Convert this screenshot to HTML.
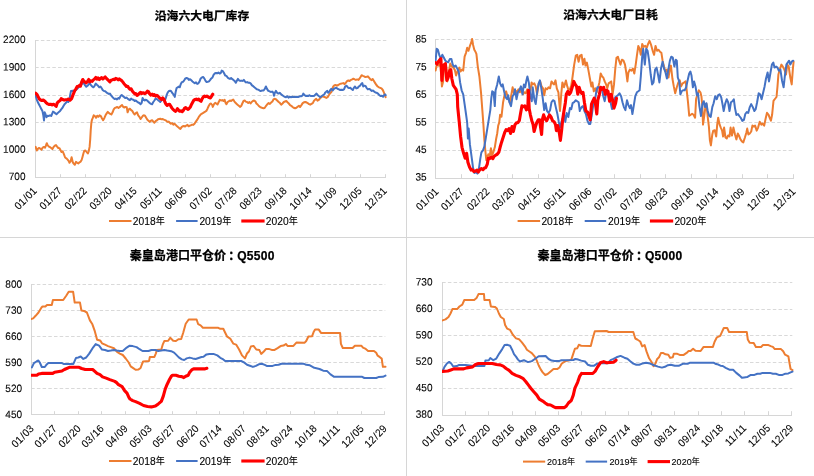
<!DOCTYPE html>
<html><head><meta charset="utf-8"><title>charts</title>
<style>
html,body{margin:0;padding:0;background:#fff;}
body{width:814px;height:476px;overflow:hidden;}
svg{display:block;}
.ax{font-family:"Liberation Sans","Noto Sans CJK SC",sans-serif;font-size:10.6px;fill:#000;stroke:#000;stroke-width:0.08px;}
.lg{font-family:"Liberation Sans","Noto Sans CJK SC",sans-serif;font-size:10.6px;fill:#000;stroke:#000;stroke-width:0.1px;}
.tt{font-family:"Liberation Sans","Noto Sans CJK SC",sans-serif;font-size:11.8px;font-weight:bold;fill:#000;stroke:#000;stroke-width:0.25px;}
</style></head><body>
<svg width="814" height="476" viewBox="0 0 814 476">
<rect x="0" y="0" width="814" height="476" fill="#fff"/>
<line x1="406.5" y1="0" x2="406.5" y2="476" stroke="#D6D6D6" stroke-width="1"/>
<line x1="0" y1="237.5" x2="814" y2="237.5" stroke="#D6D6D6" stroke-width="1"/>
<g><line x1="35.2" y1="40.5" x2="386.3" y2="40.5" stroke="#D9D9D9" stroke-width="1" stroke-dasharray="3.5 2.2"/>
<text transform="translate(25.50 43.10) rotate(0.03) scale(0.95 1)" text-anchor="end" class="ax">2200</text>
<line x1="35.2" y1="67.5" x2="386.3" y2="67.5" stroke="#D9D9D9" stroke-width="1" stroke-dasharray="3.5 2.2"/>
<text transform="translate(25.50 70.50) rotate(0.03) scale(0.95 1)" text-anchor="end" class="ax">1900</text>
<line x1="35.2" y1="95.5" x2="386.3" y2="95.5" stroke="#D9D9D9" stroke-width="1" stroke-dasharray="3.5 2.2"/>
<text transform="translate(25.50 97.90) rotate(0.03) scale(0.95 1)" text-anchor="end" class="ax">1600</text>
<line x1="35.2" y1="122.5" x2="386.3" y2="122.5" stroke="#D9D9D9" stroke-width="1" stroke-dasharray="3.5 2.2"/>
<text transform="translate(25.50 125.30) rotate(0.03) scale(0.95 1)" text-anchor="end" class="ax">1300</text>
<line x1="35.2" y1="150.5" x2="386.3" y2="150.5" stroke="#D9D9D9" stroke-width="1" stroke-dasharray="3.5 2.2"/>
<text transform="translate(25.50 152.70) rotate(0.03) scale(0.95 1)" text-anchor="end" class="ax">1000</text>
<text transform="translate(25.50 180.10) rotate(0.03) scale(0.95 1)" text-anchor="end" class="ax">700</text>
<line x1="35.5" y1="40.0" x2="35.5" y2="178.0" stroke="#D6D6D6" stroke-width="1"/>
<line x1="35.0" y1="177.5" x2="386.0" y2="177.5" stroke="#D6D6D6" stroke-width="1"/>
<text transform="translate(37.5 191.5) rotate(-45) scale(0.95 1)" text-anchor="end" class="ax">01<tspan dx="0.7">/</tspan><tspan dx="0.7">01</tspan></text>
<line x1="60.5" y1="174.2" x2="60.5" y2="177.5" stroke="#D6D6D6" stroke-width="1"/>
<text transform="translate(62.5 191.5) rotate(-45) scale(0.95 1)" text-anchor="end" class="ax">01<tspan dx="0.7">/</tspan><tspan dx="0.7">27</tspan></text>
<line x1="85.5" y1="174.2" x2="85.5" y2="177.5" stroke="#D6D6D6" stroke-width="1"/>
<text transform="translate(87.5 191.5) rotate(-45) scale(0.95 1)" text-anchor="end" class="ax">02<tspan dx="0.7">/</tspan><tspan dx="0.7">22</tspan></text>
<line x1="110.5" y1="174.2" x2="110.5" y2="177.5" stroke="#D6D6D6" stroke-width="1"/>
<text transform="translate(112.5 191.5) rotate(-45) scale(0.95 1)" text-anchor="end" class="ax">03<tspan dx="0.7">/</tspan><tspan dx="0.7">20</tspan></text>
<line x1="135.5" y1="174.2" x2="135.5" y2="177.5" stroke="#D6D6D6" stroke-width="1"/>
<text transform="translate(137.5 191.5) rotate(-45) scale(0.95 1)" text-anchor="end" class="ax">04<tspan dx="0.7">/</tspan><tspan dx="0.7">15</tspan></text>
<line x1="160.5" y1="174.2" x2="160.5" y2="177.5" stroke="#D6D6D6" stroke-width="1"/>
<text transform="translate(162.5 191.5) rotate(-45) scale(0.95 1)" text-anchor="end" class="ax">05<tspan dx="0.7">/</tspan><tspan dx="0.7">11</tspan></text>
<line x1="185.5" y1="174.2" x2="185.5" y2="177.5" stroke="#D6D6D6" stroke-width="1"/>
<text transform="translate(187.5 191.5) rotate(-45) scale(0.95 1)" text-anchor="end" class="ax">06<tspan dx="0.7">/</tspan><tspan dx="0.7">06</tspan></text>
<line x1="210.5" y1="174.2" x2="210.5" y2="177.5" stroke="#D6D6D6" stroke-width="1"/>
<text transform="translate(212.5 191.5) rotate(-45) scale(0.95 1)" text-anchor="end" class="ax">07<tspan dx="0.7">/</tspan><tspan dx="0.7">02</tspan></text>
<line x1="235.5" y1="174.2" x2="235.5" y2="177.5" stroke="#D6D6D6" stroke-width="1"/>
<text transform="translate(237.5 191.5) rotate(-45) scale(0.95 1)" text-anchor="end" class="ax">07<tspan dx="0.7">/</tspan><tspan dx="0.7">28</tspan></text>
<line x1="260.5" y1="174.2" x2="260.5" y2="177.5" stroke="#D6D6D6" stroke-width="1"/>
<text transform="translate(262.5 191.5) rotate(-45) scale(0.95 1)" text-anchor="end" class="ax">08<tspan dx="0.7">/</tspan><tspan dx="0.7">23</tspan></text>
<line x1="285.5" y1="174.2" x2="285.5" y2="177.5" stroke="#D6D6D6" stroke-width="1"/>
<text transform="translate(287.5 191.5) rotate(-45) scale(0.95 1)" text-anchor="end" class="ax">09<tspan dx="0.7">/</tspan><tspan dx="0.7">18</tspan></text>
<line x1="310.5" y1="174.2" x2="310.5" y2="177.5" stroke="#D6D6D6" stroke-width="1"/>
<text transform="translate(312.5 191.5) rotate(-45) scale(0.95 1)" text-anchor="end" class="ax">10<tspan dx="0.7">/</tspan><tspan dx="0.7">14</tspan></text>
<line x1="335.5" y1="174.2" x2="335.5" y2="177.5" stroke="#D6D6D6" stroke-width="1"/>
<text transform="translate(337.5 191.5) rotate(-45) scale(0.95 1)" text-anchor="end" class="ax">11<tspan dx="0.7">/</tspan><tspan dx="0.7">09</tspan></text>
<line x1="360.5" y1="174.2" x2="360.5" y2="177.5" stroke="#D6D6D6" stroke-width="1"/>
<text transform="translate(362.5 191.5) rotate(-45) scale(0.95 1)" text-anchor="end" class="ax">12<tspan dx="0.7">/</tspan><tspan dx="0.7">05</tspan></text>
<line x1="385.5" y1="174.2" x2="385.5" y2="177.5" stroke="#D6D6D6" stroke-width="1"/>
<text transform="translate(387.5 191.5) rotate(-45) scale(0.95 1)" text-anchor="end" class="ax">12<tspan dx="0.7">/</tspan><tspan dx="0.7">31</tspan></text>
<clipPath id="cp1"><rect x="35.0" y="39.0" width="353.9" height="139.0"/></clipPath>
<g clip-path="url(#cp1)">
<polyline points="35.6,146.9 36.8,150.5 38.0,148.6 39.1,148.0 40.3,148.6 41.5,149.8 42.7,147.6 43.9,146.9 45.0,147.6 45.9,145.7 46.8,143.2 47.7,145.4 48.9,146.6 50.0,147.2 51.2,148.0 52.4,149.1 53.6,146.9 54.8,145.7 56.0,145.1 57.1,146.6 58.3,148.0 59.5,148.3 60.7,150.5 61.5,152.0 62.7,151.3 63.9,154.2 65.1,157.5 66.3,158.3 67.4,159.4 68.6,160.9 69.5,162.8 70.7,160.9 71.6,157.2 72.8,162.3 73.9,163.8 74.8,164.8 76.0,161.9 77.2,162.8 78.3,163.4 79.5,162.3 80.7,161.6 81.6,160.1 82.5,156.9 83.4,153.5 84.2,151.0 85.4,150.5 86.6,152.0 87.8,153.5 88.7,151.3 89.6,146.9 90.2,139.5 90.7,130.6 91.3,123.3 91.9,120.0 92.7,118.2 93.7,115.3 94.9,116.0 96.0,117.8 97.2,115.7 98.4,116.8 99.6,115.3 100.8,116.0 101.9,118.2 103.1,120.2 104.3,118.2 105.5,115.3 106.7,113.4 107.8,111.9 109.0,113.1 110.2,113.8 111.4,114.5 112.6,112.3 113.7,109.4 114.9,107.9 116.1,107.5 117.3,106.9 118.5,107.9 119.6,107.2 120.8,106.0 122.0,105.0 123.2,106.9 124.3,107.5 125.5,106.9 126.7,107.2 127.6,112.3 128.8,109.4 129.9,108.7 131.1,110.1 132.3,110.9 133.5,113.1 134.7,114.5 135.8,113.1 137.0,112.3 138.2,115.3 139.4,116.8 140.6,119.0 141.7,117.5 142.9,115.7 144.1,115.3 145.0,115.7 146.2,117.8 147.4,119.7 148.5,120.7 149.7,121.9 150.9,120.7 152.1,120.2 153.3,121.6 154.4,122.7 155.6,121.2 156.8,120.4 158.0,119.3 159.2,119.0 160.3,118.7 161.5,119.3 162.7,119.0 163.9,119.7 165.1,120.2 166.2,120.7 167.4,121.9 168.6,121.6 169.8,122.7 170.9,123.7 172.1,123.1 173.3,124.6 174.5,123.7 175.7,124.9 176.8,126.0 178.0,127.1 179.2,128.1 180.4,129.0 181.6,127.1 182.7,126.3 183.9,126.0 185.1,126.6 186.3,125.6 187.5,124.9 188.6,126.3 189.8,125.6 191.0,125.2 192.2,124.6 193.3,124.9 194.5,123.7 195.7,121.9 196.9,120.2 198.1,118.2 199.2,116.3 200.4,114.8 201.6,113.8 202.8,113.1 204.0,112.3 205.2,111.6 206.3,110.9 207.5,108.7 208.7,106.0 209.9,103.9 211.0,103.5 212.2,105.0 212.8,106.9 214.0,104.2 215.2,102.8 216.3,103.5 217.5,104.5 218.7,102.0 219.9,99.8 221.1,100.5 222.2,100.1 223.4,101.0 224.6,99.8 225.5,102.8 226.4,104.2 227.6,102.0 228.7,101.3 229.9,100.5 231.1,101.0 232.3,100.1 233.2,99.5 234.3,101.3 235.5,102.8 236.7,103.9 237.9,105.0 239.1,106.0 240.2,106.9 241.4,105.7 242.3,103.5 243.5,101.0 244.7,100.5 245.8,101.6 247.0,102.0 248.2,103.0 249.4,102.0 250.6,103.5 251.7,102.0 252.9,101.0 254.1,100.5 255.3,101.3 256.4,103.5 257.6,104.5 258.8,106.0 260.0,106.9 261.2,107.5 262.0,107.8 263.6,108.3 264.8,107.8 266.1,105.8 267.4,104.2 268.6,103.1 269.9,103.9 271.1,102.6 272.4,101.5 273.7,99.1 274.9,98.8 276.2,99.5 277.4,100.7 278.7,102.0 280.0,103.1 281.2,104.7 282.5,103.5 283.8,102.0 285.0,101.5 286.3,101.0 287.5,102.3 288.8,103.5 290.1,105.1 291.3,105.8 292.6,107.0 293.8,107.8 295.1,108.3 296.4,107.8 297.6,106.7 298.9,105.8 300.1,107.0 301.4,105.1 302.7,103.1 303.9,102.3 305.2,102.0 306.4,102.3 307.7,103.1 309.0,104.2 310.2,104.7 311.5,103.9 312.8,103.1 314.0,100.7 315.3,99.5 316.2,98.8 317.5,100.7 318.8,99.9 320.0,98.3 321.3,97.2 322.5,96.3 323.8,96.8 325.1,97.2 326.3,97.9 327.6,97.2 328.8,95.2 330.1,93.2 331.4,92.0 332.3,89.4 333.2,86.5 334.5,85.3 335.8,85.0 337.0,85.7 338.3,85.0 339.6,84.2 340.8,83.7 342.1,83.4 343.3,83.1 344.6,84.2 345.9,82.6 347.1,81.0 348.4,80.5 349.6,81.0 350.9,79.9 352.2,79.4 353.4,78.7 354.7,79.4 355.9,79.9 357.2,79.4 358.5,79.9 359.4,78.7 360.7,76.8 361.6,75.2 362.9,75.8 364.1,76.3 365.4,77.1 366.7,76.8 367.9,76.3 369.2,77.9 370.4,79.4 371.7,80.2 372.7,79.0 373.9,81.0 375.2,83.1 376.4,85.0 377.7,86.5 379.0,87.3 380.2,87.8 381.5,88.4 382.8,90.0 383.7,92.0 384.6,94.4 385.6,97.2" fill="none" stroke="#ED7D31" stroke-width="2.0" stroke-linejoin="round" stroke-linecap="round"/>
<polyline points="35.6,95.4 36.6,99.1 37.7,102.0 38.9,104.2 40.0,106.4 41.2,108.7 42.4,110.9 43.3,115.3 44.0,120.4 44.7,112.3 45.6,114.5 46.5,117.2 47.7,115.7 48.9,116.0 50.0,115.3 51.2,116.0 52.1,113.8 53.0,111.6 54.2,112.3 55.4,113.4 56.5,114.2 57.7,113.1 58.9,111.9 60.1,110.9 61.2,109.4 62.4,107.9 63.6,105.7 64.8,103.9 66.0,102.8 67.2,101.3 68.3,102.0 69.5,99.8 70.1,95.4 71.0,91.0 72.8,90.7 74.2,91.0 75.7,90.2 77.2,88.8 78.7,87.3 80.1,85.8 81.6,84.3 82.8,82.8 84.0,83.6 85.1,85.4 86.3,86.8 87.5,85.8 88.7,84.3 89.8,83.3 91.0,85.1 92.2,86.5 93.4,87.3 94.6,85.8 95.8,83.6 96.9,84.8 98.1,85.8 99.3,87.3 100.5,86.5 101.7,88.3 102.8,90.2 104.0,91.0 105.2,91.2 106.4,92.4 107.5,93.2 108.7,93.9 109.9,93.6 111.1,95.4 112.3,96.9 113.4,98.0 114.6,99.1 115.8,98.6 117.0,99.5 118.2,98.0 119.3,98.6 120.5,96.1 121.7,95.1 122.9,96.1 124.0,96.9 125.2,98.0 126.4,97.6 127.6,98.6 128.8,99.5 129.9,100.1 131.1,98.6 132.3,99.5 133.5,99.8 134.7,101.0 135.8,100.5 137.0,101.6 138.2,102.5 139.4,103.0 140.6,104.2 141.7,102.8 142.6,98.0 143.5,99.8 144.7,100.5 145.0,99.8 146.5,100.1 147.9,101.3 149.4,102.8 150.9,103.9 152.1,104.2 153.3,102.0 154.4,100.5 155.6,98.6 156.8,99.1 158.0,100.1 159.2,101.0 160.3,102.0 161.5,100.5 162.7,99.1 163.9,99.8 164.9,100.5 165.9,97.6 166.8,94.6 167.8,92.4 168.9,91.0 170.1,90.7 171.2,91.2 172.4,93.2 173.6,94.6 174.8,96.9 175.7,91.7 176.6,88.0 177.7,87.3 178.9,86.5 179.8,87.3 180.7,84.3 181.9,82.1 183.0,81.8 184.2,80.3 185.4,78.4 186.6,78.0 187.8,78.4 188.9,79.9 190.1,79.2 191.3,80.3 192.5,81.4 193.7,82.4 194.8,83.3 196.0,82.4 197.2,83.9 198.4,83.3 199.6,81.4 200.7,78.4 201.9,77.4 203.1,77.0 204.3,78.4 205.4,80.6 206.6,82.1 207.8,81.8 209.0,81.4 210.2,79.9 211.3,78.4 212.5,77.4 213.7,74.7 214.9,73.3 216.1,73.0 217.2,73.3 218.4,72.5 219.6,73.6 220.8,73.0 221.7,70.6 222.8,71.1 224.0,73.0 225.2,75.5 226.4,75.9 227.6,77.4 228.7,78.4 229.9,78.9 231.1,78.0 232.3,79.2 233.4,79.9 234.6,80.9 235.8,82.8 237.0,80.6 237.9,78.9 239.1,80.3 240.2,80.9 241.4,80.6 242.6,80.9 243.8,79.9 244.9,81.4 246.1,82.4 247.3,82.1 248.5,82.8 249.7,82.8 250.8,83.6 252.0,85.4 253.2,86.2 254.4,87.3 255.6,88.3 256.7,89.2 257.9,89.5 259.1,90.2 260.3,91.0 261.5,90.7 262.0,90.5 263.6,90.5 264.8,88.9 265.9,86.5 267.0,88.9 268.3,90.9 269.6,91.3 270.8,92.0 272.1,91.6 273.4,92.8 274.0,95.7 274.9,92.8 275.9,90.9 277.1,92.8 278.4,93.6 279.7,92.8 280.9,94.1 282.2,95.2 283.4,96.0 284.7,96.8 286.0,97.2 287.2,96.3 288.5,97.6 289.7,96.8 291.0,97.2 292.3,96.8 293.5,96.9 294.8,96.9 296.1,96.8 297.3,96.9 298.6,96.9 299.8,96.3 301.1,96.3 302.4,95.7 303.3,93.6 304.6,95.2 305.8,96.0 307.1,95.7 308.3,96.0 309.3,95.2 310.6,96.0 311.8,96.0 313.1,96.0 314.3,95.7 315.6,94.4 316.5,93.6 317.8,95.2 319.1,96.3 320.3,97.2 321.6,96.3 322.9,95.2 324.1,94.7 325.1,92.8 326.3,91.6 327.3,90.9 328.2,92.8 329.5,91.6 330.4,89.7 331.4,88.9 332.6,90.5 333.9,88.9 335.1,88.1 336.4,87.8 337.7,88.9 338.9,89.4 340.2,90.0 341.4,89.7 342.7,90.0 344.0,89.4 345.2,86.5 346.5,85.7 347.8,87.3 349.0,88.1 350.3,87.8 351.5,88.9 352.8,90.0 353.7,88.1 355.0,86.5 356.3,88.4 357.5,88.1 358.8,86.5 360.1,85.7 361.0,84.2 362.3,83.1 363.2,86.5 364.5,85.7 365.7,86.2 366.7,88.1 367.9,89.4 369.2,88.9 370.4,89.7 371.7,90.9 373.0,90.5 374.2,91.6 375.5,92.5 376.8,92.8 378.0,93.6 379.3,95.2 380.5,96.0 381.8,95.7 383.1,96.8 384.0,95.2 385.0,94.4 385.7,95.2" fill="none" stroke="#4472C4" stroke-width="2.0" stroke-linejoin="round" stroke-linecap="round"/>
<polyline points="35.6,93.2 37.1,94.6 38.1,96.6 39.1,98.6 40.3,99.8 41.8,100.5 43.3,100.1 44.7,101.0 46.2,102.8 47.7,103.9 49.2,104.5 50.6,104.2 52.1,105.0 53.6,104.2 55.1,105.4 56.2,106.4 57.3,102.8 58.8,101.3 60.2,100.5 61.2,98.6 62.7,99.5 64.2,100.1 65.7,99.8 67.2,99.5 68.6,99.1 70.1,100.1 71.6,98.6 72.8,95.4 73.9,92.7 75.0,90.2 76.0,88.8 77.2,86.5 78.3,86.2 79.4,85.4 80.4,86.2 81.6,82.1 82.8,79.5 84.0,81.4 85.1,82.1 86.3,82.8 87.5,81.4 88.7,79.5 89.8,81.8 91.0,80.9 92.2,81.4 93.4,79.9 94.6,78.9 95.8,77.4 96.9,79.2 98.1,78.0 99.3,79.5 100.5,78.4 101.7,77.7 102.8,78.9 104.0,78.0 105.2,77.0 106.4,78.4 107.5,79.5 108.7,80.6 109.9,81.8 111.1,80.3 112.3,79.9 113.4,79.2 114.6,79.6 115.8,78.4 117.0,78.9 118.2,79.9 119.3,78.9 120.5,79.9 121.7,80.6 122.9,82.1 124.0,83.6 125.2,85.1 126.4,86.5 127.6,86.2 128.8,88.0 129.9,89.2 131.1,88.8 132.3,91.0 133.5,92.4 134.7,93.9 135.8,93.6 137.0,95.4 138.2,94.6 139.4,93.2 140.6,92.4 141.7,93.6 142.9,92.7 144.1,93.2 145.0,93.6 146.2,92.7 147.4,91.2 148.5,91.7 149.7,93.9 150.9,95.1 152.1,94.2 153.3,95.4 154.4,94.6 155.6,96.1 156.8,95.4 158.0,96.1 159.2,97.6 160.3,98.6 161.5,99.5 162.7,98.0 163.9,99.1 164.9,102.0 165.9,104.2 167.1,105.4 168.3,104.5 169.5,104.2 170.7,106.0 171.8,107.9 173.0,109.4 174.2,110.4 175.4,111.3 176.6,110.1 177.4,108.7 178.6,110.1 179.8,111.3 181.0,110.9 182.2,111.6 183.3,110.4 184.5,108.3 185.7,107.5 186.9,108.7 188.1,109.4 189.2,108.3 190.4,106.9 191.6,104.2 192.8,102.0 193.9,100.1 195.1,99.5 196.3,99.1 197.5,99.8 198.7,99.1 199.8,100.5 201.0,101.3 202.2,98.6 203.4,96.9 204.6,96.1 205.7,96.6 206.9,96.1 208.1,96.9 209.3,97.6 210.4,98.0 211.6,96.1 212.8,94.2" fill="none" stroke="#FF0000" stroke-width="3.1" stroke-linejoin="round" stroke-linecap="round"/>
</g>
<text x="202.0" y="19.5" text-anchor="middle" class="tt" style="font-size:11.8px">沿海六大电厂库存</text>
<line x1="109.0" y1="221.0" x2="131.5" y2="221.0" stroke="#ED7D31" stroke-width="2.0"/>
<text transform="translate(132.8 224.7) scale(0.97 1)" class="lg" style="font-size:10.6px">2018<tspan dy="-0.74" style="font-size:9.43px">年</tspan></text>
<line x1="176.1" y1="221.0" x2="197.6" y2="221.0" stroke="#4472C4" stroke-width="2.0"/>
<text transform="translate(199.4 224.7) scale(0.97 1)" class="lg" style="font-size:10.6px">2019<tspan dy="-0.74" style="font-size:9.43px">年</tspan></text>
<line x1="241.3" y1="221.0" x2="264.6" y2="221.0" stroke="#FF0000" stroke-width="3.1"/>
<text transform="translate(265.8 224.7) scale(0.97 1)" class="lg" style="font-size:10.6px">2020<tspan dy="-0.74" style="font-size:9.43px">年</tspan></text></g>
<g><line x1="435.2" y1="39.5" x2="794.3" y2="39.5" stroke="#D9D9D9" stroke-width="1" stroke-dasharray="3.5 2.2"/>
<text transform="translate(426.70 42.60) rotate(0.03) scale(0.95 1)" text-anchor="end" class="ax">85</text>
<line x1="435.2" y1="67.5" x2="794.3" y2="67.5" stroke="#D9D9D9" stroke-width="1" stroke-dasharray="3.5 2.2"/>
<text transform="translate(426.70 70.20) rotate(0.03) scale(0.95 1)" text-anchor="end" class="ax">75</text>
<line x1="435.2" y1="95.5" x2="794.3" y2="95.5" stroke="#D9D9D9" stroke-width="1" stroke-dasharray="3.5 2.2"/>
<text transform="translate(426.70 97.80) rotate(0.03) scale(0.95 1)" text-anchor="end" class="ax">65</text>
<line x1="435.2" y1="122.5" x2="794.3" y2="122.5" stroke="#D9D9D9" stroke-width="1" stroke-dasharray="3.5 2.2"/>
<text transform="translate(426.70 125.40) rotate(0.03) scale(0.95 1)" text-anchor="end" class="ax">55</text>
<line x1="435.2" y1="150.5" x2="794.3" y2="150.5" stroke="#D9D9D9" stroke-width="1" stroke-dasharray="3.5 2.2"/>
<text transform="translate(426.70 153.00) rotate(0.03) scale(0.95 1)" text-anchor="end" class="ax">45</text>
<text transform="translate(426.70 180.60) rotate(0.03) scale(0.95 1)" text-anchor="end" class="ax">35</text>
<line x1="435.5" y1="39.0" x2="435.5" y2="179.0" stroke="#D6D6D6" stroke-width="1"/>
<line x1="435.0" y1="178.5" x2="794.0" y2="178.5" stroke="#D6D6D6" stroke-width="1"/>
<text transform="translate(439.1 192.2) rotate(-45) scale(0.95 1)" text-anchor="end" class="ax">01<tspan dx="0.7">/</tspan><tspan dx="0.7">01</tspan></text>
<line x1="461.5" y1="174.2" x2="461.5" y2="178.5" stroke="#D6D6D6" stroke-width="1"/>
<text transform="translate(464.1 192.2) rotate(-45) scale(0.95 1)" text-anchor="end" class="ax">01<tspan dx="0.7">/</tspan><tspan dx="0.7">27</tspan></text>
<line x1="487.5" y1="174.2" x2="487.5" y2="178.5" stroke="#D6D6D6" stroke-width="1"/>
<text transform="translate(490.1 192.2) rotate(-45) scale(0.95 1)" text-anchor="end" class="ax">02<tspan dx="0.7">/</tspan><tspan dx="0.7">22</tspan></text>
<line x1="512.5" y1="174.2" x2="512.5" y2="178.5" stroke="#D6D6D6" stroke-width="1"/>
<text transform="translate(515.1 192.2) rotate(-45) scale(0.95 1)" text-anchor="end" class="ax">03<tspan dx="0.7">/</tspan><tspan dx="0.7">20</tspan></text>
<line x1="538.5" y1="174.2" x2="538.5" y2="178.5" stroke="#D6D6D6" stroke-width="1"/>
<text transform="translate(541.1 192.2) rotate(-45) scale(0.95 1)" text-anchor="end" class="ax">04<tspan dx="0.7">/</tspan><tspan dx="0.7">15</tspan></text>
<line x1="563.5" y1="174.2" x2="563.5" y2="178.5" stroke="#D6D6D6" stroke-width="1"/>
<text transform="translate(566.1 192.2) rotate(-45) scale(0.95 1)" text-anchor="end" class="ax">05<tspan dx="0.7">/</tspan><tspan dx="0.7">11</tspan></text>
<line x1="589.5" y1="174.2" x2="589.5" y2="178.5" stroke="#D6D6D6" stroke-width="1"/>
<text transform="translate(592.1 192.2) rotate(-45) scale(0.95 1)" text-anchor="end" class="ax">06<tspan dx="0.7">/</tspan><tspan dx="0.7">06</tspan></text>
<line x1="614.5" y1="174.2" x2="614.5" y2="178.5" stroke="#D6D6D6" stroke-width="1"/>
<text transform="translate(617.1 192.2) rotate(-45) scale(0.95 1)" text-anchor="end" class="ax">07<tspan dx="0.7">/</tspan><tspan dx="0.7">02</tspan></text>
<line x1="640.5" y1="174.2" x2="640.5" y2="178.5" stroke="#D6D6D6" stroke-width="1"/>
<text transform="translate(643.1 192.2) rotate(-45) scale(0.95 1)" text-anchor="end" class="ax">07<tspan dx="0.7">/</tspan><tspan dx="0.7">28</tspan></text>
<line x1="665.5" y1="174.2" x2="665.5" y2="178.5" stroke="#D6D6D6" stroke-width="1"/>
<text transform="translate(668.1 192.2) rotate(-45) scale(0.95 1)" text-anchor="end" class="ax">08<tspan dx="0.7">/</tspan><tspan dx="0.7">23</tspan></text>
<line x1="691.5" y1="174.2" x2="691.5" y2="178.5" stroke="#D6D6D6" stroke-width="1"/>
<text transform="translate(694.1 192.2) rotate(-45) scale(0.95 1)" text-anchor="end" class="ax">09<tspan dx="0.7">/</tspan><tspan dx="0.7">18</tspan></text>
<line x1="716.5" y1="174.2" x2="716.5" y2="178.5" stroke="#D6D6D6" stroke-width="1"/>
<text transform="translate(719.1 192.2) rotate(-45) scale(0.95 1)" text-anchor="end" class="ax">10<tspan dx="0.7">/</tspan><tspan dx="0.7">14</tspan></text>
<line x1="742.5" y1="174.2" x2="742.5" y2="178.5" stroke="#D6D6D6" stroke-width="1"/>
<text transform="translate(745.1 192.2) rotate(-45) scale(0.95 1)" text-anchor="end" class="ax">11<tspan dx="0.7">/</tspan><tspan dx="0.7">09</tspan></text>
<line x1="767.5" y1="174.2" x2="767.5" y2="178.5" stroke="#D6D6D6" stroke-width="1"/>
<text transform="translate(770.1 192.2) rotate(-45) scale(0.95 1)" text-anchor="end" class="ax">12<tspan dx="0.7">/</tspan><tspan dx="0.7">05</tspan></text>
<line x1="793.5" y1="174.2" x2="793.5" y2="178.5" stroke="#D6D6D6" stroke-width="1"/>
<text transform="translate(796.1 192.2) rotate(-45) scale(0.95 1)" text-anchor="end" class="ax">12<tspan dx="0.7">/</tspan><tspan dx="0.7">31</tspan></text>
<clipPath id="cp2"><rect x="435.0" y="38.0" width="361.5" height="141.0"/></clipPath>
<g clip-path="url(#cp2)">
<polyline points="435.6,70.6 436.4,66.6 437.5,64.6 438.9,65.6 440.3,61.7 441.9,86.4 443.1,81.4 444.2,64.6 445.8,63.6 447.4,81.4 448.8,72.5 450.2,63.6 451.8,66.6 453.3,67.6 454.7,69.6 456.1,75.5 457.7,70.6 459.3,67.6 460.6,71.5 462.0,69.6 463.2,70.6 464.6,56.7 466.0,52.8 467.2,47.8 468.5,50.8 469.9,45.9 471.1,42.9 472.1,39.0 473.1,44.9 474.3,49.8 475.5,51.8 476.4,53.8 477.8,66.6 479.4,76.5 481.0,92.3 482.4,110.8 483.4,124.6 484.4,140.4 485.3,150.3 486.3,160.2 487.3,157.2 488.3,154.3 489.7,156.2 490.9,148.3 492.2,155.2 493.6,151.3 494.8,147.3 496.2,138.5 497.2,133.5 498.2,125.6 499.2,122.7 500.1,114.8 501.5,116.7 503.1,102.2 504.7,94.3 506.1,91.3 507.5,96.2 509.0,99.2 510.0,103.2 511.4,94.3 512.6,87.3 514.0,93.3 515.4,90.3 516.9,92.3 518.5,89.3 519.9,92.3 521.3,87.3 522.9,94.3 524.4,92.3 525.8,93.3 527.2,89.3 528.8,94.3 530.4,90.3 531.6,82.4 532.7,84.4 534.3,83.4 535.7,86.4 537.1,94.3 538.7,83.4 540.2,81.4 541.6,86.4 543.0,88.3 544.2,95.2 545.6,88.3 547.0,89.3 548.5,87.3 550.1,88.3 551.5,81.4 552.9,83.4 554.1,84.4 555.5,80.4 556.8,88.3 558.4,92.3 560.0,111.0 561.4,92.3 562.4,82.4 564.0,87.3 565.9,80.4 567.3,86.4 568.3,89.3 569.9,89.3 571.3,85.4 572.6,76.5 574.2,64.6 575.8,55.7 577.2,54.8 578.6,61.7 580.0,55.7 581.6,54.8 583.0,64.6 584.4,58.7 585.5,65.6 586.9,62.6 588.3,69.6 589.9,78.5 591.3,86.4 592.4,82.4 593.8,91.3 595.4,88.3 596.8,92.3 598.2,87.3 599.4,82.4 600.7,73.5 602.1,76.5 603.3,77.5 604.7,81.4 606.1,84.4 607.3,88.3 608.6,83.4 610.0,82.4 611.2,81.4 612.6,94.3 614.0,84.4 615.2,69.6 616.5,57.7 617.9,56.7 619.1,60.7 620.5,64.6 621.9,59.7 623.5,60.7 625.0,64.6 626.4,73.5 627.4,81.4 628.4,72.5 629.8,69.6 631.4,70.6 632.9,68.6 634.3,73.5 635.7,64.6 636.9,55.7 638.3,45.9 639.6,48.8 640.8,54.8 642.2,43.9 643.6,46.9 645.2,45.9 646.8,47.8 648.1,43.9 649.5,40.9 651.1,44.9 652.7,50.8 654.1,54.8 655.5,45.9 657.0,50.8 658.6,49.8 660.0,51.8 661.4,52.8 662.6,60.7 664.0,66.6 665.3,71.5 666.9,69.6 668.5,77.5 669.9,68.6 670.9,65.6 672.4,78.5 673.8,86.4 675.2,93.3 676.8,87.3 678.4,82.4 679.8,80.4 681.1,86.4 682.7,83.4 684.3,82.4 685.7,81.4 686.6,89.3 688.0,102.2 689.2,115.7 690.7,114.8 692.1,113.8 693.5,114.8 695.1,117.7 696.1,99.0 697.5,94.3 698.8,90.3 700.4,92.3 701.4,96.2 702.4,106.8 703.0,124.6 704.4,114.8 705.4,106.8 706.5,103.9 707.7,116.7 708.9,126.6 709.9,140.4 710.9,145.4 712.3,134.5 713.3,130.6 714.8,130.2 716.2,136.5 717.2,124.6 718.2,117.7 719.6,124.6 720.8,127.6 722.1,130.6 723.1,136.5 724.1,127.6 725.5,137.5 726.7,138.5 728.1,135.5 729.5,136.5 730.6,127.6 732.0,135.5 733.4,127.6 735.0,134.5 736.4,139.4 737.8,133.5 738.9,135.5 740.5,139.4 741.9,141.4 743.3,142.4 744.9,137.5 746.4,132.5 747.2,128.6 748.4,134.5 749.8,133.5 751.2,131.5 752.4,125.6 753.8,126.6 755.1,125.6 756.7,130.6 758.1,127.6 759.7,121.7 761.3,124.6 762.6,123.6 764.2,125.6 765.6,118.7 767.0,112.8 768.6,114.8 770.0,118.7 770.9,120.7 772.1,114.8 773.5,100.9 774.9,99.0 776.5,97.0 777.5,86.4 778.4,74.5 779.8,69.6 781.4,64.6 782.8,66.6 784.4,69.6 786.0,74.5 787.3,64.6 788.7,66.6 790.3,77.5 791.7,84.4 792.9,68.6 793.6,61.7" fill="none" stroke="#ED7D31" stroke-width="2.0" stroke-linejoin="round" stroke-linecap="round"/>
<polyline points="435.6,60.7 436.7,48.8 437.9,49.8 439.5,55.7 440.9,58.7 442.3,54.8 443.9,57.7 445.4,60.7 446.8,61.7 448.2,62.3 449.8,59.1 451.4,59.1 452.7,64.6 454.1,66.6 455.7,65.6 457.3,68.6 458.7,71.5 460.1,82.4 461.6,90.3 463.2,94.3 464.6,104.1 466.0,114.0 467.2,122.7 467.9,138.5 468.7,128.6 469.9,144.4 471.5,156.2 473.1,168.1 474.5,173.0 475.9,172.0 477.4,173.6 479.0,168.1 480.4,158.2 481.4,152.3 483.0,150.3 484.4,146.4 485.7,138.5 487.3,128.6 488.9,118.7 490.3,110.1 491.3,98.2 492.2,91.3 493.6,92.3 494.8,106.1 495.6,90.3 497.2,84.4 498.8,76.5 500.1,83.4 501.5,86.4 502.7,84.4 504.1,91.3 505.5,97.2 507.1,99.2 508.1,95.2 509.4,102.2 511.0,106.1 512.6,96.2 514.0,94.3 515.0,89.3 516.5,99.2 517.9,92.3 519.3,90.3 520.9,86.4 522.5,94.3 523.9,84.4 525.2,87.3 526.4,80.4 527.4,76.5 528.8,82.4 530.4,96.2 531.8,101.2 532.7,87.3 534.3,99.2 535.7,104.1 537.1,92.3 538.7,83.4 539.9,80.4 541.0,86.4 542.6,97.2 544.2,110.1 545.6,103.2 547.0,111.0 548.5,113.0 550.1,110.1 551.5,102.2 552.9,100.2 554.5,101.2 556.0,108.1 557.4,114.0 558.8,121.9 560.0,127.8 561.4,121.9 562.8,118.0 564.0,114.0 565.3,121.9 566.7,113.0 568.3,117.0 569.9,108.1 571.3,109.1 572.6,103.2 574.2,102.2 575.8,100.2 577.2,101.2 578.6,102.2 579.8,111.0 580.0,110.1 581.6,107.1 583.0,106.1 584.4,111.0 585.9,114.0 587.5,120.9 588.9,123.9 590.3,123.9 591.9,114.0 593.4,104.1 594.8,101.2 596.2,92.3 597.4,87.3 598.8,87.3 600.1,88.3 601.7,87.3 603.3,96.2 604.7,101.2 606.1,93.3 607.6,91.3 609.2,98.2 610.6,102.2 612.0,109.1 613.6,104.1 615.2,97.2 616.5,96.2 617.9,95.2 619.5,93.3 621.1,96.2 622.5,102.2 623.9,107.1 625.4,110.1 627.0,100.2 628.4,105.1 629.8,108.1 631.0,105.1 632.4,114.0 633.7,106.1 635.3,96.2 636.9,92.3 638.3,91.3 639.6,90.3 640.8,76.5 642.2,56.7 643.2,48.8 644.8,64.6 646.2,48.8 647.6,50.8 649.1,60.7 650.7,74.5 652.1,84.4 653.5,82.4 655.1,69.6 656.6,67.6 658.0,74.5 659.4,82.4 661.0,68.6 662.6,61.7 664.0,68.6 665.3,71.5 666.9,78.5 668.5,68.6 669.9,60.7 671.3,56.7 672.8,57.7 674.4,66.6 675.8,59.7 676.8,60.7 677.8,77.5 679.2,81.4 680.4,94.3 681.7,91.3 683.1,90.3 684.7,90.3 686.2,87.3 687.6,80.4 689.2,73.5 690.4,71.5 691.5,75.5 692.9,87.3 694.1,81.4 695.5,86.4 696.9,95.2 698.0,93.3 699.4,106.1 701.0,116.0 702.4,104.1 703.8,101.2 705.0,107.1 706.4,103.2 707.7,111.0 709.3,116.0 710.7,117.0 712.3,107.1 713.6,103.2 715.2,96.2 716.8,99.2 718.2,95.2 719.6,94.3 721.2,97.2 722.5,104.1 723.7,111.0 725.1,104.1 726.7,99.2 728.1,102.2 729.5,111.0 731.0,102.2 732.4,101.2 733.8,99.2 735.0,108.1 736.4,115.0 738.0,114.0 739.3,116.0 740.9,118.0 742.3,120.9 743.9,119.9 745.3,114.0 746.8,112.0 748.2,113.0 749.8,107.1 751.2,104.1 752.8,107.1 754.4,111.0 755.7,109.1 757.1,102.2 758.7,93.3 760.1,94.3 761.6,99.2 763.0,93.3 764.6,86.4 766.0,78.5 767.6,72.5 769.0,81.4 770.5,72.5 771.9,64.6 773.3,62.6 774.5,67.6 776.1,66.6 777.5,67.6 778.8,70.6 780.4,69.6 782.0,80.4 783.6,87.3 784.8,76.5 786.4,64.6 787.7,62.6 789.1,60.7 790.3,64.6 791.7,61.7 793.3,60.7" fill="none" stroke="#4472C4" stroke-width="2.0" stroke-linejoin="round" stroke-linecap="round"/>
<polyline points="435.6,62.6 436.9,64.0 438.3,61.7 439.9,59.7 440.9,58.7 441.9,80.4 443.1,66.6 444.2,64.6 445.4,63.6 446.8,80.4 448.2,77.5 449.8,70.6 450.8,69.6 451.8,78.5 453.3,85.4 454.7,87.3 456.1,89.3 457.3,94.3 457.7,106.8 459.3,122.7 460.6,136.5 462.0,147.3 463.6,153.3 465.2,158.2 466.6,153.3 467.9,162.2 469.5,167.1 471.1,170.1 472.5,169.7 473.9,171.6 475.5,171.1 477.0,170.1 478.4,172.0 479.8,169.7 481.4,168.5 483.0,169.7 484.4,168.1 485.7,167.7 487.3,164.1 488.3,158.2 489.7,158.6 491.3,157.2 492.8,158.6 494.2,156.2 495.6,155.2 497.2,154.3 498.8,152.3 500.1,147.3 501.5,142.4 503.1,137.5 504.7,132.5 506.1,129.6 507.5,130.6 509.0,128.6 510.6,133.5 512.0,126.6 513.4,131.5 515.0,124.6 516.5,122.7 517.9,122.7 519.3,120.7 520.5,113.8 521.9,105.9 523.3,106.8 524.8,105.9 526.4,109.8 527.8,108.8 528.4,90.3 529.2,108.8 530.4,114.8 531.8,120.7 533.1,124.6 534.1,131.5 535.5,126.6 536.7,122.7 538.3,119.7 539.6,119.7 540.6,127.6 541.6,134.5 542.6,118.7 543.6,114.8 545.0,118.7 546.6,120.7 548.1,117.7 549.5,114.8 550.9,116.7 552.5,120.7 554.1,121.7 555.5,124.6 556.4,130.6 557.8,125.6 559.4,133.5 560.4,140.4 561.6,130.6 562.8,118.7 564.0,110.8 565.3,102.9 566.3,94.3 567.9,91.3 569.3,94.3 570.7,92.3 572.2,87.3 573.8,81.4 575.2,84.4 576.6,86.4 577.8,94.3 579.2,87.3 580.0,90.3 581.6,93.3 583.0,92.3 584.4,102.2 585.9,111.0 587.5,112.0 588.9,116.0 590.3,119.9 591.5,104.1 592.8,101.2 594.2,98.2 595.4,103.2 596.8,114.0 597.8,100.2 599.4,94.3 600.7,87.3 602.1,89.3 603.7,87.3 605.3,94.3 606.7,90.3 608.0,91.3 609.6,101.2 611.2,94.3 612.6,100.2 614.0,108.1 615.6,103.2 616.5,98.2" fill="none" stroke="#FF0000" stroke-width="3.1" stroke-linejoin="round" stroke-linecap="round"/>
</g>
<text x="610.5" y="19.0" text-anchor="middle" class="tt" style="font-size:11.8px">沿海六大电厂日耗</text>
<line x1="517.6" y1="221.0" x2="540.1" y2="221.0" stroke="#ED7D31" stroke-width="2.0"/>
<text transform="translate(541.4 224.7) scale(0.97 1)" class="lg" style="font-size:10.6px">2018<tspan dy="-0.74" style="font-size:9.43px">年</tspan></text>
<line x1="584.7" y1="221.0" x2="606.2" y2="221.0" stroke="#4472C4" stroke-width="2.0"/>
<text transform="translate(608.0 224.7) scale(0.97 1)" class="lg" style="font-size:10.6px">2019<tspan dy="-0.74" style="font-size:9.43px">年</tspan></text>
<line x1="649.9" y1="221.0" x2="673.2" y2="221.0" stroke="#FF0000" stroke-width="3.1"/>
<text transform="translate(674.4 224.7) scale(0.97 1)" class="lg" style="font-size:10.6px">2020<tspan dy="-0.74" style="font-size:9.43px">年</tspan></text></g>
<g><line x1="31.2" y1="284.5" x2="385.3" y2="284.5" stroke="#D9D9D9" stroke-width="1" stroke-dasharray="3.5 2.2"/>
<text transform="translate(22.10 287.80) rotate(0.03) scale(0.95 1)" text-anchor="end" class="ax">800</text>
<line x1="31.2" y1="310.5" x2="385.3" y2="310.5" stroke="#D9D9D9" stroke-width="1" stroke-dasharray="3.5 2.2"/>
<text transform="translate(22.10 313.84) rotate(0.03) scale(0.95 1)" text-anchor="end" class="ax">730</text>
<line x1="31.2" y1="336.5" x2="385.3" y2="336.5" stroke="#D9D9D9" stroke-width="1" stroke-dasharray="3.5 2.2"/>
<text transform="translate(22.10 339.88) rotate(0.03) scale(0.95 1)" text-anchor="end" class="ax">660</text>
<line x1="31.2" y1="362.5" x2="385.3" y2="362.5" stroke="#D9D9D9" stroke-width="1" stroke-dasharray="3.5 2.2"/>
<text transform="translate(22.10 365.92) rotate(0.03) scale(0.95 1)" text-anchor="end" class="ax">590</text>
<line x1="31.2" y1="388.5" x2="385.3" y2="388.5" stroke="#D9D9D9" stroke-width="1" stroke-dasharray="3.5 2.2"/>
<text transform="translate(22.10 391.96) rotate(0.03) scale(0.95 1)" text-anchor="end" class="ax">520</text>
<text transform="translate(22.10 418.00) rotate(0.03) scale(0.95 1)" text-anchor="end" class="ax">450</text>
<line x1="31.5" y1="284.0" x2="31.5" y2="415.0" stroke="#D6D6D6" stroke-width="1"/>
<line x1="31.0" y1="414.5" x2="385.0" y2="414.5" stroke="#D6D6D6" stroke-width="1"/>
<text transform="translate(34.5 429.4) rotate(-45) scale(0.95 1)" text-anchor="end" class="ax">01<tspan dx="0.7">/</tspan><tspan dx="0.7">03</tspan></text>
<line x1="54.5" y1="411.2" x2="54.5" y2="414.5" stroke="#D6D6D6" stroke-width="1"/>
<text transform="translate(57.5 429.4) rotate(-45) scale(0.95 1)" text-anchor="end" class="ax">01<tspan dx="0.7">/</tspan><tspan dx="0.7">27</tspan></text>
<line x1="78.5" y1="411.2" x2="78.5" y2="414.5" stroke="#D6D6D6" stroke-width="1"/>
<text transform="translate(81.5 429.4) rotate(-45) scale(0.95 1)" text-anchor="end" class="ax">02<tspan dx="0.7">/</tspan><tspan dx="0.7">20</tspan></text>
<line x1="101.5" y1="411.2" x2="101.5" y2="414.5" stroke="#D6D6D6" stroke-width="1"/>
<text transform="translate(104.5 429.4) rotate(-45) scale(0.95 1)" text-anchor="end" class="ax">03<tspan dx="0.7">/</tspan><tspan dx="0.7">16</tspan></text>
<line x1="125.5" y1="411.2" x2="125.5" y2="414.5" stroke="#D6D6D6" stroke-width="1"/>
<text transform="translate(128.5 429.4) rotate(-45) scale(0.95 1)" text-anchor="end" class="ax">04<tspan dx="0.7">/</tspan><tspan dx="0.7">09</tspan></text>
<line x1="149.5" y1="411.2" x2="149.5" y2="414.5" stroke="#D6D6D6" stroke-width="1"/>
<text transform="translate(152.5 429.4) rotate(-45) scale(0.95 1)" text-anchor="end" class="ax">05<tspan dx="0.7">/</tspan><tspan dx="0.7">03</tspan></text>
<line x1="172.5" y1="411.2" x2="172.5" y2="414.5" stroke="#D6D6D6" stroke-width="1"/>
<text transform="translate(175.5 429.4) rotate(-45) scale(0.95 1)" text-anchor="end" class="ax">05<tspan dx="0.7">/</tspan><tspan dx="0.7">27</tspan></text>
<line x1="196.5" y1="411.2" x2="196.5" y2="414.5" stroke="#D6D6D6" stroke-width="1"/>
<text transform="translate(199.5 429.4) rotate(-45) scale(0.95 1)" text-anchor="end" class="ax">06<tspan dx="0.7">/</tspan><tspan dx="0.7">20</tspan></text>
<line x1="219.5" y1="411.2" x2="219.5" y2="414.5" stroke="#D6D6D6" stroke-width="1"/>
<text transform="translate(222.5 429.4) rotate(-45) scale(0.95 1)" text-anchor="end" class="ax">07<tspan dx="0.7">/</tspan><tspan dx="0.7">14</tspan></text>
<line x1="243.5" y1="411.2" x2="243.5" y2="414.5" stroke="#D6D6D6" stroke-width="1"/>
<text transform="translate(246.5 429.4) rotate(-45) scale(0.95 1)" text-anchor="end" class="ax">08<tspan dx="0.7">/</tspan><tspan dx="0.7">07</tspan></text>
<line x1="266.5" y1="411.2" x2="266.5" y2="414.5" stroke="#D6D6D6" stroke-width="1"/>
<text transform="translate(269.5 429.4) rotate(-45) scale(0.95 1)" text-anchor="end" class="ax">08<tspan dx="0.7">/</tspan><tspan dx="0.7">31</tspan></text>
<line x1="290.5" y1="411.2" x2="290.5" y2="414.5" stroke="#D6D6D6" stroke-width="1"/>
<text transform="translate(293.5 429.4) rotate(-45) scale(0.95 1)" text-anchor="end" class="ax">09<tspan dx="0.7">/</tspan><tspan dx="0.7">24</tspan></text>
<line x1="314.5" y1="411.2" x2="314.5" y2="414.5" stroke="#D6D6D6" stroke-width="1"/>
<text transform="translate(317.5 429.4) rotate(-45) scale(0.95 1)" text-anchor="end" class="ax">10<tspan dx="0.7">/</tspan><tspan dx="0.7">18</tspan></text>
<line x1="337.5" y1="411.2" x2="337.5" y2="414.5" stroke="#D6D6D6" stroke-width="1"/>
<text transform="translate(340.5 429.4) rotate(-45) scale(0.95 1)" text-anchor="end" class="ax">11<tspan dx="0.7">/</tspan><tspan dx="0.7">11</tspan></text>
<line x1="361.5" y1="411.2" x2="361.5" y2="414.5" stroke="#D6D6D6" stroke-width="1"/>
<text transform="translate(364.5 429.4) rotate(-45) scale(0.95 1)" text-anchor="end" class="ax">12<tspan dx="0.7">/</tspan><tspan dx="0.7">05</tspan></text>
<line x1="384.5" y1="411.2" x2="384.5" y2="414.5" stroke="#D6D6D6" stroke-width="1"/>
<text transform="translate(387.5 429.4) rotate(-45) scale(0.95 1)" text-anchor="end" class="ax">12<tspan dx="0.7">/</tspan><tspan dx="0.7">29</tspan></text>
<clipPath id="cp3"><rect x="31.0" y="283.0" width="357.3" height="132.0"/></clipPath>
<g clip-path="url(#cp3)">
<polyline points="31.2,319.0 33.2,318.4 35.6,315.8 38.5,312.5 41.5,307.5 42.5,306.5 45.4,306.5 47.0,305.0 51.8,305.0 52.9,300.0 63.2,300.0 66.2,295.7 68.7,291.7 73.1,291.7 74.7,302.6 80.0,302.6 81.4,310.5 84.0,310.9 86.9,312.5 89.9,320.4 92.4,324.3 94.8,331.2 97.1,339.8 100.1,340.4 102.0,343.3 105.0,344.7 108.0,346.1 110.9,347.1 113.9,348.2 116.8,351.6 119.8,353.6 122.8,355.0 125.7,358.5 128.7,362.5 130.7,366.4 133.6,368.4 135.6,369.8 138.6,369.4 140.6,368.0 141.9,364.4 143.1,361.5 149.1,360.9 149.8,357.1 154.4,356.9 155.8,353.6 156.9,350.0 161.3,349.6 162.7,344.7 164.3,341.1 168.2,340.7 170.2,337.8 173.2,340.7 175.9,341.0 178.4,339.2 181.2,339.0 183.2,332.7 185.7,323.8 188.7,319.5 196.6,319.5 198.2,324.2 200.6,325.4 202.9,327.8 218.3,327.8 220.3,328.8 223.3,328.8 225.2,332.7 227.2,336.7 230.2,338.6 233.2,343.6 236.1,344.6 239.1,349.5 242.0,355.4 245.0,358.4 247.0,353.5 248.9,351.5 250.9,346.5 253.5,345.9 256.3,349.5 259.4,350.1 261.2,353.9 263.8,351.5 266.1,348.9 268.7,348.9 271.7,349.9 274.6,349.9 277.6,348.1 280.6,346.1 283.5,345.6 285.9,344.0 287.5,345.9 293.4,345.9 296.4,342.6 304.7,342.7 306.2,341.0 308.4,336.5 312.1,336.2 313.6,332.1 315.1,329.6 318.8,329.6 321.0,332.9 340.1,332.9 340.9,343.9 342.8,348.0 352.6,348.0 354.9,345.8 361.5,345.8 363.0,347.6 365.2,348.6 368.1,351.0 374.0,351.0 376.2,352.8 377.7,355.7 379.9,357.2 381.7,358.6 382.9,366.8 385.5,366.8" fill="none" stroke="#ED7D31" stroke-width="2.0" stroke-linejoin="round" stroke-linecap="round"/>
<polyline points="31.9,367.4 33.9,363.1 36.5,361.5 38.4,360.5 39.8,362.5 41.8,367.0 44.8,367.0 46.7,364.4 48.3,362.9 54.6,362.9 61.5,362.9 63.5,363.9 73.4,363.9 76.0,357.9 78.3,357.5 80.7,356.5 83.3,358.9 86.2,357.5 89.2,353.6 93.2,347.3 95.7,344.1 99.1,345.7 102.0,349.6 105.0,350.0 108.0,351.0 110.9,350.6 113.9,350.0 116.8,350.6 119.8,351.0 122.8,351.0 126.7,347.6 129.7,345.7 132.7,346.1 136.6,347.1 139.6,349.2 142.5,351.0 145.5,351.0 148.5,351.0 151.4,350.0 155.4,350.0 158.3,351.0 161.3,350.6 164.3,350.0 167.2,350.6 171.2,351.2 174.1,352.6 175.9,354.4 178.8,357.4 181.8,359.4 184.2,360.0 186.7,358.4 189.7,357.6 192.7,358.4 195.6,359.0 198.6,358.0 201.5,357.0 203.5,356.8 206.5,354.4 209.4,353.9 213.4,353.9 217.3,355.4 220.3,357.8 223.3,359.4 225.2,361.0 241.1,361.0 244.0,362.4 247.0,364.7 249.9,365.7 252.9,366.9 255.9,365.9 258.8,364.3 261.8,363.7 264.8,364.9 266.7,365.9 272.6,365.9 275.6,364.9 278.6,364.7 281.5,363.7 303.3,363.7 304.7,364.1 306.2,364.8 309.9,365.3 314.3,367.8 319.5,369.0 323.2,370.7 326.9,370.9 330.5,374.4 334.2,376.8 362.2,376.8 364.4,378.0 376.2,378.0 378.4,377.1 382.9,376.8 385.5,375.6" fill="none" stroke="#4472C4" stroke-width="2.0" stroke-linejoin="round" stroke-linecap="round"/>
<polyline points="31.5,375.3 36.8,375.3 38.6,374.0 41.7,373.4 52.7,373.4 54.6,372.2 61.9,371.0 64.4,369.5 69.3,367.3 79.1,367.3 81.6,368.5 85.3,369.5 92.7,369.5 95.1,371.6 97.0,373.4 100.0,374.7 102.5,376.9 106.2,378.1 109.8,379.6 114.8,381.4 116.6,382.6 118.5,384.7 122.1,386.7 124.6,390.6 127.0,393.1 128.9,397.4 130.0,399.0 132.7,400.6 135.6,401.6 139.6,403.4 143.5,405.5 147.5,406.5 151.4,406.9 155.4,406.1 158.3,403.9 161.3,401.4 163.3,396.1 165.2,389.1 167.2,384.2 169.6,379.3 171.6,375.9 172.5,375.2 175.9,375.2 178.8,376.2 181.8,376.6 183.8,377.6 185.7,376.2 188.3,375.2 189.7,372.2 191.7,369.9 193.6,368.9 204.5,368.9 206.9,368.3" fill="none" stroke="#FF0000" stroke-width="3.1" stroke-linejoin="round" stroke-linecap="round"/>
</g>
<text x="202.3" y="260.0" text-anchor="middle" class="tt" style="font-size:12.05px">秦皇岛港口平仓价<tspan dx="2.2">：</tspan><tspan dx="-3.2" style="letter-spacing:0.3px">Q5500</tspan></text>
<line x1="109.0" y1="461.0" x2="131.5" y2="461.0" stroke="#ED7D31" stroke-width="2.0"/>
<text transform="translate(132.8 464.7) scale(0.97 1)" class="lg" style="font-size:10.6px">2018<tspan dy="-0.74" style="font-size:9.43px">年</tspan></text>
<line x1="176.1" y1="461.0" x2="197.6" y2="461.0" stroke="#4472C4" stroke-width="2.0"/>
<text transform="translate(199.4 464.7) scale(0.97 1)" class="lg" style="font-size:10.6px">2019<tspan dy="-0.74" style="font-size:9.43px">年</tspan></text>
<line x1="241.3" y1="461.0" x2="264.6" y2="461.0" stroke="#FF0000" stroke-width="3.1"/>
<text transform="translate(265.8 464.7) scale(0.97 1)" class="lg" style="font-size:10.6px">2020<tspan dy="-0.74" style="font-size:9.43px">年</tspan></text></g>
<g><line x1="442.2" y1="282.5" x2="792.3" y2="282.5" stroke="#D9D9D9" stroke-width="1" stroke-dasharray="3.5 2.2"/>
<text transform="translate(432.50 285.60) rotate(0.03) scale(0.95 1)" text-anchor="end" class="ax">730</text>
<line x1="442.2" y1="309.5" x2="792.3" y2="309.5" stroke="#D9D9D9" stroke-width="1" stroke-dasharray="3.5 2.2"/>
<text transform="translate(432.50 312.02) rotate(0.03) scale(0.95 1)" text-anchor="end" class="ax">660</text>
<line x1="442.2" y1="335.5" x2="792.3" y2="335.5" stroke="#D9D9D9" stroke-width="1" stroke-dasharray="3.5 2.2"/>
<text transform="translate(432.50 338.44) rotate(0.03) scale(0.95 1)" text-anchor="end" class="ax">590</text>
<line x1="442.2" y1="362.5" x2="792.3" y2="362.5" stroke="#D9D9D9" stroke-width="1" stroke-dasharray="3.5 2.2"/>
<text transform="translate(432.50 364.86) rotate(0.03) scale(0.95 1)" text-anchor="end" class="ax">520</text>
<line x1="442.2" y1="388.5" x2="792.3" y2="388.5" stroke="#D9D9D9" stroke-width="1" stroke-dasharray="3.5 2.2"/>
<text transform="translate(432.50 391.28) rotate(0.03) scale(0.95 1)" text-anchor="end" class="ax">450</text>
<text transform="translate(432.50 417.70) rotate(0.03) scale(0.95 1)" text-anchor="end" class="ax">380</text>
<line x1="442.5" y1="282.0" x2="442.5" y2="416.0" stroke="#D6D6D6" stroke-width="1"/>
<line x1="442.0" y1="415.5" x2="792.0" y2="415.5" stroke="#D6D6D6" stroke-width="1"/>
<text transform="translate(445.0 428.8) rotate(-45) scale(0.95 1)" text-anchor="end" class="ax">01<tspan dx="0.7">/</tspan><tspan dx="0.7">03</tspan></text>
<line x1="465.5" y1="411.2" x2="465.5" y2="415.5" stroke="#D6D6D6" stroke-width="1"/>
<text transform="translate(468.0 428.8) rotate(-45) scale(0.95 1)" text-anchor="end" class="ax">01<tspan dx="0.7">/</tspan><tspan dx="0.7">27</tspan></text>
<line x1="488.5" y1="411.2" x2="488.5" y2="415.5" stroke="#D6D6D6" stroke-width="1"/>
<text transform="translate(491.0 428.8) rotate(-45) scale(0.95 1)" text-anchor="end" class="ax">02<tspan dx="0.7">/</tspan><tspan dx="0.7">20</tspan></text>
<line x1="512.5" y1="411.2" x2="512.5" y2="415.5" stroke="#D6D6D6" stroke-width="1"/>
<text transform="translate(515.0 428.8) rotate(-45) scale(0.95 1)" text-anchor="end" class="ax">03<tspan dx="0.7">/</tspan><tspan dx="0.7">16</tspan></text>
<line x1="535.5" y1="411.2" x2="535.5" y2="415.5" stroke="#D6D6D6" stroke-width="1"/>
<text transform="translate(538.0 428.8) rotate(-45) scale(0.95 1)" text-anchor="end" class="ax">04<tspan dx="0.7">/</tspan><tspan dx="0.7">09</tspan></text>
<line x1="558.5" y1="411.2" x2="558.5" y2="415.5" stroke="#D6D6D6" stroke-width="1"/>
<text transform="translate(561.0 428.8) rotate(-45) scale(0.95 1)" text-anchor="end" class="ax">05<tspan dx="0.7">/</tspan><tspan dx="0.7">03</tspan></text>
<line x1="581.5" y1="411.2" x2="581.5" y2="415.5" stroke="#D6D6D6" stroke-width="1"/>
<text transform="translate(584.0 428.8) rotate(-45) scale(0.95 1)" text-anchor="end" class="ax">05<tspan dx="0.7">/</tspan><tspan dx="0.7">27</tspan></text>
<line x1="605.5" y1="411.2" x2="605.5" y2="415.5" stroke="#D6D6D6" stroke-width="1"/>
<text transform="translate(608.0 428.8) rotate(-45) scale(0.95 1)" text-anchor="end" class="ax">06<tspan dx="0.7">/</tspan><tspan dx="0.7">20</tspan></text>
<line x1="628.5" y1="411.2" x2="628.5" y2="415.5" stroke="#D6D6D6" stroke-width="1"/>
<text transform="translate(631.0 428.8) rotate(-45) scale(0.95 1)" text-anchor="end" class="ax">07<tspan dx="0.7">/</tspan><tspan dx="0.7">14</tspan></text>
<line x1="651.5" y1="411.2" x2="651.5" y2="415.5" stroke="#D6D6D6" stroke-width="1"/>
<text transform="translate(654.0 428.8) rotate(-45) scale(0.95 1)" text-anchor="end" class="ax">08<tspan dx="0.7">/</tspan><tspan dx="0.7">07</tspan></text>
<line x1="674.5" y1="411.2" x2="674.5" y2="415.5" stroke="#D6D6D6" stroke-width="1"/>
<text transform="translate(677.0 428.8) rotate(-45) scale(0.95 1)" text-anchor="end" class="ax">08<tspan dx="0.7">/</tspan><tspan dx="0.7">31</tspan></text>
<line x1="698.5" y1="411.2" x2="698.5" y2="415.5" stroke="#D6D6D6" stroke-width="1"/>
<text transform="translate(701.0 428.8) rotate(-45) scale(0.95 1)" text-anchor="end" class="ax">09<tspan dx="0.7">/</tspan><tspan dx="0.7">24</tspan></text>
<line x1="721.5" y1="411.2" x2="721.5" y2="415.5" stroke="#D6D6D6" stroke-width="1"/>
<text transform="translate(724.0 428.8) rotate(-45) scale(0.95 1)" text-anchor="end" class="ax">10<tspan dx="0.7">/</tspan><tspan dx="0.7">18</tspan></text>
<line x1="744.5" y1="411.2" x2="744.5" y2="415.5" stroke="#D6D6D6" stroke-width="1"/>
<text transform="translate(747.0 428.8) rotate(-45) scale(0.95 1)" text-anchor="end" class="ax">11<tspan dx="0.7">/</tspan><tspan dx="0.7">11</tspan></text>
<line x1="768.5" y1="411.2" x2="768.5" y2="415.5" stroke="#D6D6D6" stroke-width="1"/>
<text transform="translate(771.0 428.8) rotate(-45) scale(0.95 1)" text-anchor="end" class="ax">12<tspan dx="0.7">/</tspan><tspan dx="0.7">05</tspan></text>
<line x1="791.5" y1="411.2" x2="791.5" y2="415.5" stroke="#D6D6D6" stroke-width="1"/>
<text transform="translate(794.0 428.8) rotate(-45) scale(0.95 1)" text-anchor="end" class="ax">12<tspan dx="0.7">/</tspan><tspan dx="0.7">29</tspan></text>
<clipPath id="cp4"><rect x="442.0" y="281.0" width="352.8" height="135.0"/></clipPath>
<g clip-path="url(#cp4)">
<polyline points="442.6,320.4 445.5,319.4 448.5,317.0 450.5,313.5 452.4,309.1 457.4,308.9 459.4,306.5 462.3,304.6 464.3,300.0 474.2,300.0 476.5,298.1 478.5,294.1 484.0,294.1 484.4,300.0 489.6,300.0 490.9,306.5 494.9,306.9 496.9,308.5 498.9,313.5 500.8,317.0 503.8,319.0 505.1,325.0 507.1,328.6 510.1,329.9 513.0,334.9 516.0,338.4 519.0,339.2 521.9,342.4 524.9,346.3 526.9,349.7 529.8,351.7 531.8,353.1 534.8,356.6 536.8,360.6 538.7,365.5 540.7,369.4 542.7,372.4 545.2,375.0 547.6,374.0 550.6,371.4 553.5,368.9 557.5,368.9 559.5,367.5 561.8,363.5 565.4,361.1 568.4,360.6 571.3,359.6 573.3,353.6 574.9,348.7 577.2,348.3 578.8,344.8 581.2,345.7 590.8,346.0 592.4,339.5 594.8,331.2 606.6,331.0 608.6,332.0 633.3,332.0 635.3,338.5 637.2,339.5 640.2,341.5 642.2,346.4 644.6,345.0 646.5,351.4 649.1,358.3 651.7,362.2 653.6,366.2 655.6,363.2 657.0,359.3 659.0,357.3 661.0,352.9 662.9,352.9 665.5,354.3 668.3,354.7 670.2,357.9 672.8,357.3 673.8,353.7 676.8,353.7 679.7,354.9 683.7,354.9 686.6,352.9 688.6,351.0 690.6,351.0 693.1,348.8 695.5,350.8 700.6,351.0 703.6,346.9 712.9,346.9 714.6,341.7 716.9,337.3 720.2,335.8 722.0,331.8 723.8,328.0 727.2,328.0 729.1,332.1 746.8,332.1 747.8,339.5 749.7,342.7 753.7,342.9 755.9,346.9 761.1,346.9 763.0,345.1 768.5,345.1 770.7,346.1 772.9,346.9 774.8,349.1 781.0,349.1 783.2,351.3 785.1,354.7 788.4,356.4 789.5,363.1 790.6,369.0 792.5,370.1" fill="none" stroke="#ED7D31" stroke-width="2.0" stroke-linejoin="round" stroke-linecap="round"/>
<polyline points="442.5,371.4 444.5,366.9 446.9,363.5 449.2,361.9 451.2,363.5 453.2,366.5 456.8,366.1 458.7,365.1 465.6,365.1 473.5,366.1 484.4,366.1 485.4,360.6 488.8,360.2 490.3,358.0 493.3,360.2 496.3,358.6 499.2,353.6 502.2,349.1 504.6,345.1 507.1,344.8 510.1,345.7 512.1,349.7 514.0,354.2 516.0,356.6 518.0,359.6 520.0,361.5 523.9,360.2 527.9,362.1 531.8,361.1 534.8,359.0 538.7,356.2 545.6,356.0 548.6,359.0 551.6,360.6 554.5,361.1 559.5,360.9 561.4,360.2 573.3,360.0 575.3,359.0 578.2,359.6 581.2,360.6 585.1,361.5 587.9,364.8 590.8,365.8 593.8,365.8 596.8,363.8 601.7,363.2 607.6,363.2 610.6,360.2 613.5,358.9 616.5,357.3 620.5,355.9 624.4,357.7 627.4,358.7 630.3,361.2 633.3,363.6 636.3,364.8 639.2,364.8 642.2,363.6 646.1,362.8 650.1,363.6 654.0,365.2 658.0,366.6 661.9,367.6 664.9,366.8 667.9,365.2 670.8,364.8 674.8,365.8 678.7,365.8 682.7,363.8 687.6,363.8 689.6,362.8 713.3,362.8 713.9,362.8 716.1,364.1 718.3,364.6 720.5,365.7 722.8,366.0 725.7,367.8 729.4,369.7 733.1,369.7 736.0,372.6 739.7,375.6 741.9,377.8 744.1,377.4 747.1,377.1 750.8,374.9 754.4,374.9 757.4,373.7 760.3,373.7 762.5,372.9 769.9,372.9 772.9,373.7 775.8,373.7 778.8,374.9 782.5,374.9 785.4,373.7 788.4,373.4 790.6,372.4 792.5,371.6" fill="none" stroke="#4472C4" stroke-width="2.0" stroke-linejoin="round" stroke-linecap="round"/>
<polyline points="442.5,371.4 447.9,371.0 450.8,370.0 453.8,368.9 463.7,368.9 466.6,367.9 472.6,366.9 475.5,364.5 478.5,363.5 492.3,363.5 496.3,364.5 500.2,364.9 503.2,366.1 506.1,368.5 509.1,370.4 512.1,373.4 516.0,375.4 520.0,376.8 522.9,378.3 525.9,381.7 528.3,384.9 530.8,388.2 533.8,391.8 536.8,395.1 539.3,399.1 542.7,401.1 545.2,403.0 547.6,404.6 550.6,405.0 553.5,406.6 555.5,407.6 564.4,407.6 566.4,406.0 568.4,403.0 571.3,400.5 573.3,395.1 574.9,388.2 577.6,382.3 579.6,376.4 581.6,373.4 581.9,373.5 592.8,373.5 595.2,371.1 597.7,366.8 600.3,362.8 603.7,361.6 606.6,362.8 613.5,362.2 616.1,360.2" fill="none" stroke="#FF0000" stroke-width="3.1" stroke-linejoin="round" stroke-linecap="round"/>
</g>
<text x="610.0" y="259.6" text-anchor="middle" class="tt" style="font-size:12.05px">秦皇岛港口平仓价<tspan dx="2.2">：</tspan><tspan dx="-3.2" style="letter-spacing:0.3px">Q5000</tspan></text>
<line x1="523.0" y1="461.6" x2="545.2" y2="461.6" stroke="#ED7D31" stroke-width="2.0"/>
<text transform="translate(547.0 464.9) scale(0.97 1)" class="lg" style="font-size:9.3px">2018<tspan dy="-0.65" style="font-size:8.28px">年</tspan></text>
<line x1="585.7" y1="461.6" x2="607.1" y2="461.6" stroke="#4472C4" stroke-width="2.0"/>
<text transform="translate(609.4 464.9) scale(0.97 1)" class="lg" style="font-size:9.3px">2019<tspan dy="-0.65" style="font-size:8.28px">年</tspan></text>
<line x1="647.6" y1="461.6" x2="670.0" y2="461.6" stroke="#FF0000" stroke-width="3.1"/>
<text transform="translate(671.6 464.9) scale(0.97 1)" class="lg" style="font-size:9.3px">2020<tspan dy="-0.65" style="font-size:8.28px">年</tspan></text></g>
</svg>
</body></html>
